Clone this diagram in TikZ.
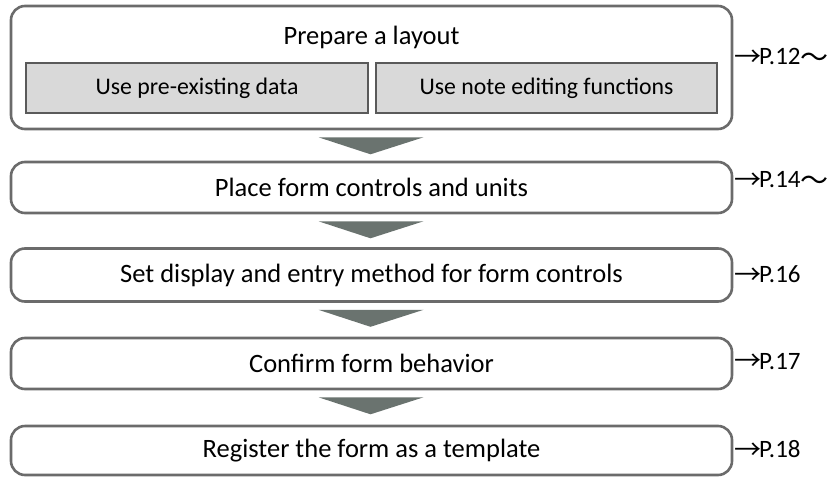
\documentclass[tikz,border=0pt]{standalone}
\usepackage{fontspec}
\setmainfont{Carlito}
\newfontfamily\symfont{Noto Sans CJK JP}
\usetikzlibrary{calc}
\definecolor{frame}{HTML}{6B6B6B}
\definecolor{subframe}{HTML}{5A5A5A}
\definecolor{subfill}{HTML}{D9D9D9}
\definecolor{flow}{HTML}{6A736F}
\tikzset{
  stepbox/.style={draw=frame, line width=2.6pt, rounded corners=14pt, fill=white,
    minimum width=721pt, inner sep=0pt, font=\fontsize{26.5}{30}\selectfont},
  subbox/.style={draw=subframe, line width=2.2pt, fill=subfill, minimum height=50pt,
    inner sep=0pt, font=\fontsize{23.8}{27}\selectfont},
  pageref/.style={anchor=west, inner sep=0pt, font=\fontsize{25}{28}\selectfont},
  flowarrow/.style={fill=flow, draw=none}
}
\newcommand{\toarrow}{\raisebox{-1.5pt}{\symfont\fontsize{27}{28}\selectfont →}\hspace{-2pt}}
\newcommand{\onward}{\raisebox{-2.5pt}{\symfont\fontsize{28}{28}\selectfont ～}}
\begin{document}
\begin{tikzpicture}[x=1pt, y=-1pt]
  \useasboundingbox (0,0) rectangle (833,477);
  % step boxes
  \node[stepbox, minimum height=123pt] (b1) at (371.5,67.5) {};
  \node[font=\fontsize{26.5}{30}\selectfont] (t1) at (371.5,37) {Prepare a layout};
  \node[subbox, minimum width=342pt] (s1) at (197,88) {Use pre-existing data};
  \node[subbox, minimum width=341pt] (s2) at (546.5,88) {Use note editing functions};
  \node[stepbox, minimum height=51pt] (b2) at (371.5,187.5) {Place form controls and units};
  \node[stepbox, minimum height=53pt] (b3) at (371.5,275) {Set display and entry method for form controls};
  \node[stepbox, minimum height=51pt] (b4) at (371.5,363.5) {Confirm form behavior};
  \node[stepbox, minimum height=49pt] (b5) at (371.5,450.5) {Register the form as a template};
  % flow arrows between steps (y grows downwards)
  \foreach \a/\b in {b1/b2, b2/b3, b3/b4, b4/b5}{
    \fill[flowarrow] ($(\a.south)+(-53,7)$) -- ($(\a.south)+(52,7)$)
      -- ($(\a.south)+(-1,24)$) -- cycle;
  }
  % page references
  \node[pageref] (p1) at (734,58) {\toarrow P.12\onward};
  \node[pageref] (p2) at (734,181) {\toarrow P.14\onward};
  \node[pageref] (p3) at (734,275) {\toarrow P.16};
  \node[pageref] (p4) at (734,362) {\toarrow P.17};
  \node[pageref] (p5) at (734,450) {\toarrow P.18};
\end{tikzpicture}
\end{document}
